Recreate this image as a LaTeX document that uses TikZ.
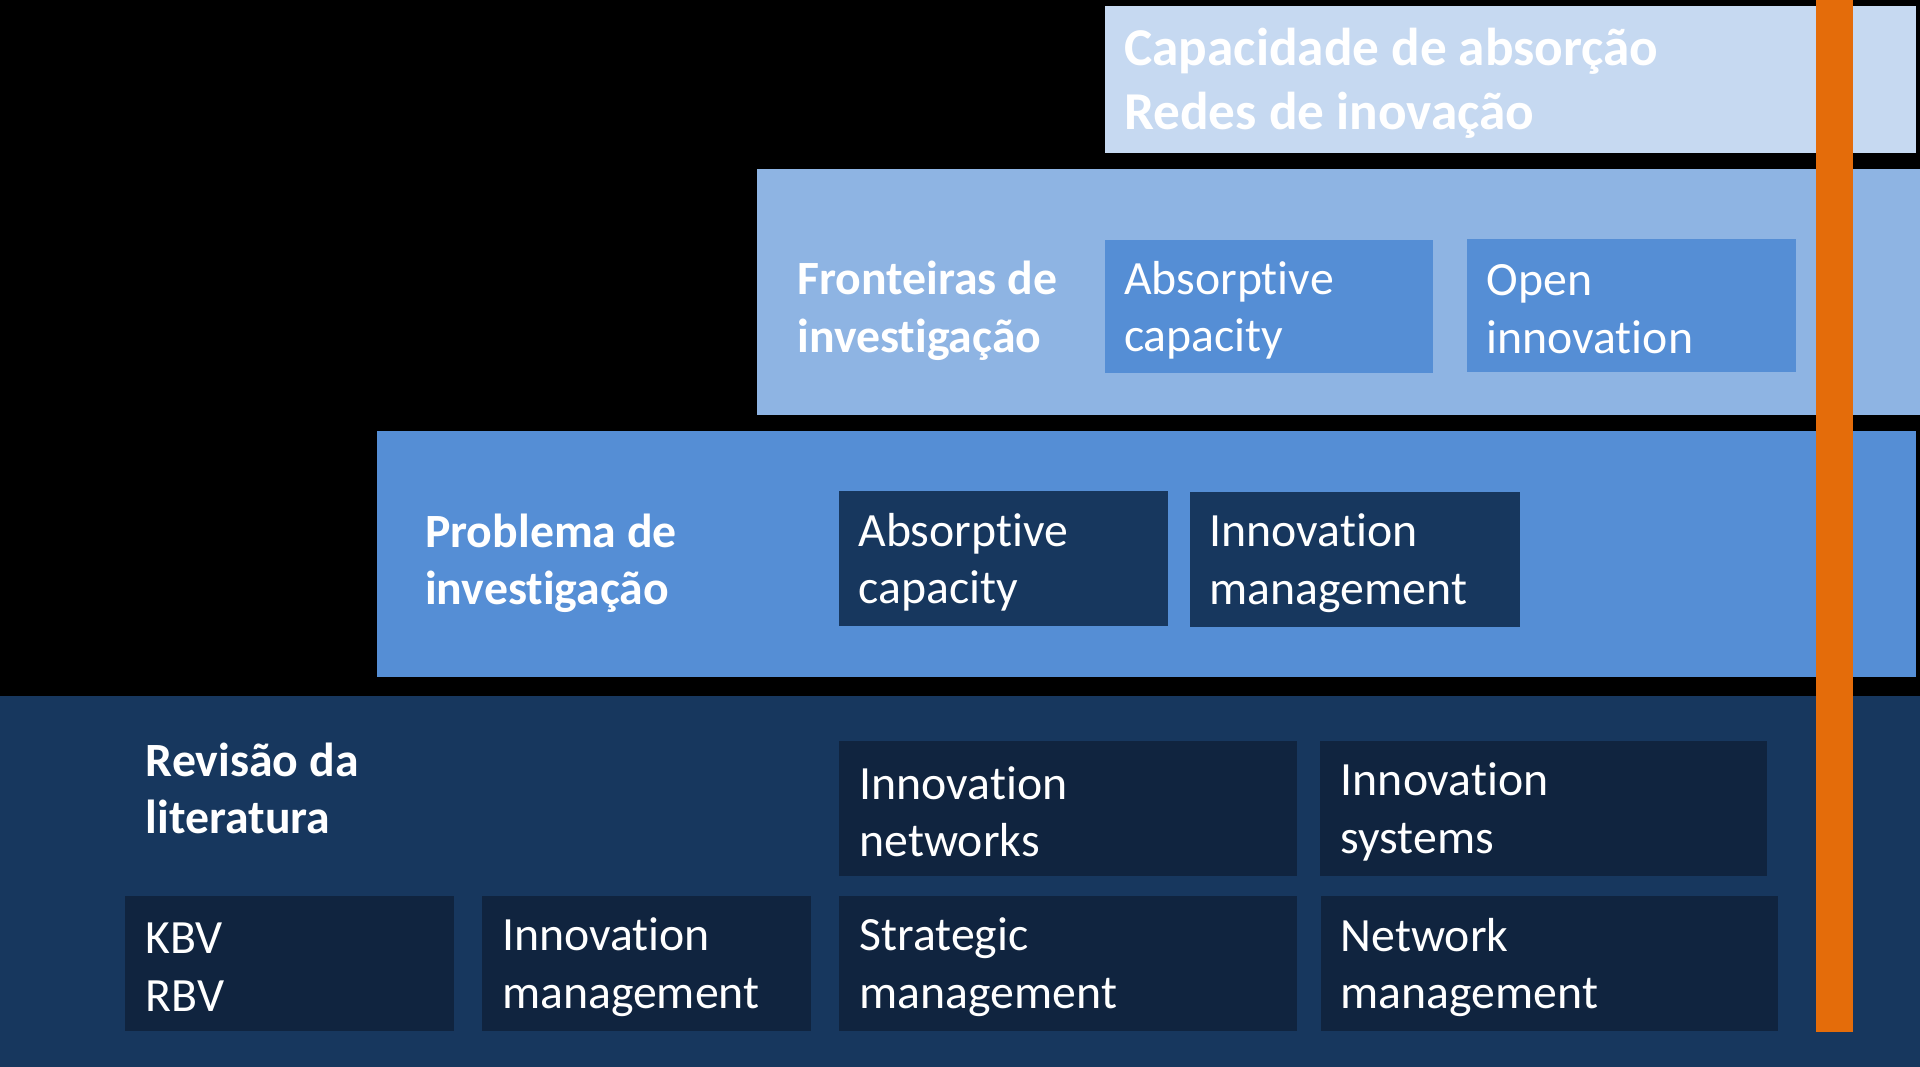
\documentclass[tikz,border=0pt]{standalone}
\usepackage{fontspec}
\setmainfont{Carlito}[Ligatures=NoCommon]
\usepackage{tikz}
\usetikzlibrary{positioning,backgrounds}

\definecolor{palebl}{HTML}{C6D9F1}
\definecolor{lightbl}{HTML}{8EB4E3}
\definecolor{midbl}{HTML}{558ED5}
\definecolor{darkbl}{HTML}{17375E}
\definecolor{deepbl}{HTML}{10243F}
\definecolor{barorange}{HTML}{E46C0A}

\tikzset{
  band/.style={rectangle, inner sep=0pt, draw=none},
  cellbox/.style={rectangle, inner sep=0pt, draw=none, minimum height=110pt},
  celltext/.style={anchor=west, inner sep=0pt, align=left, text=white,
    font=\fontsize{39}{47}\selectfont},
  bandlabel/.style={anchor=west, inner sep=0pt, align=left, text=white,
    font=\bfseries\fontsize{39}{47}\selectfont},
}

\begin{document}
\begin{tikzpicture}[x=1pt,y=-1pt]
\useasboundingbox (0,0) rectangle (1568,871);
\fill[black] (0,0) rectangle (1568,871);

% bands
\node[band, fill=palebl, minimum width=663pt, minimum height=120pt] (top) at (1233.5,65) {};
\node[band, fill=lightbl, minimum width=950pt, minimum height=201pt] (front) at (1093,238.5) {};
\node[band, fill=midbl, minimum width=1257pt, minimum height=201pt] (prob) at (936.5,452.5) {};
\node[band, fill=darkbl, minimum width=1568pt, minimum height=303pt] (rev) at (784,719.5) {};

% labels
\node[bandlabel, font=\bfseries\fontsize{43.5}{52}\selectfont] (toptxt) at (918,68)
  {Capacidade de absorção\\Redes de inovação};
\node[bandlabel] (fronttxt) at (651,254) {Fronteiras de\\investigação};
\node[bandlabel] (probtxt) at (347,460) {Problema de\\investigação};
\node[bandlabel] (revtxt) at (119,644) {Revisão da\\literatura};

% frontiers
\node[cellbox, fill=midbl, minimum width=268pt, minimum height=109pt] (fa) at (1036,250.5) {};
\node[cellbox, fill=midbl, minimum width=269pt, minimum height=109pt] (fb) at (1332.5,249.5) {};
\node[celltext] (fatxt) at ([xshift=16pt,yshift=-3pt]fa.west) {Absorptive\\capacity};
\node[celltext] (fbtxt) at ([xshift=16pt,yshift=-3pt]fb.west) {Open\\innovation};

% problem
\node[cellbox, fill=darkbl, minimum width=269pt] (pa) at (819.5,456) {};
\node[cellbox, fill=darkbl, minimum width=269pt] (pb) at (1106.5,457) {};
\node[celltext] (patxt) at ([xshift=16pt,yshift=-3pt]pa.west) {Absorptive\\capacity};
\node[celltext] (pbtxt) at ([xshift=16pt,yshift=-3pt]pb.west) {Innovation\\management};

% literature review
\node[cellbox, fill=deepbl, minimum width=374pt] (ra) at (872,660) {};
\node[cellbox, fill=deepbl, minimum width=365pt] (rb) at (1260.5,660) {};
\node[cellbox, fill=deepbl, minimum width=269pt] (rc) at (236.5,787) {};
\node[cellbox, fill=deepbl, minimum width=268pt] (rd) at (528,787) {};
\node[cellbox, fill=deepbl, minimum width=374pt] (re) at (872,787) {};
\node[cellbox, fill=deepbl, minimum width=373pt] (rf) at (1265.5,787) {};
\node[celltext] (ratxt) at ([xshift=17pt,yshift=-3pt]ra.west) {Innovation\\networks};
\node[celltext] (rbtxt) at ([xshift=17pt,yshift=-3pt]rb.west) {Innovation\\systems};
\node[celltext] (rctxt) at ([xshift=17pt,yshift=-3pt]rc.west) {KBV\\RBV};
\node[celltext] (rdtxt) at ([xshift=16pt,yshift=-3pt]rd.west) {Innovation\\management};
\node[celltext] (retxt) at ([xshift=17pt,yshift=-3pt]re.west) {Strategic\\management};
\node[celltext] (rftxt) at ([xshift=16pt,yshift=-3pt]rf.west) {Network\\management};

% orange bar
\node[band, fill=barorange, minimum width=30pt, minimum height=843pt] (bar) at (1498,421.5) {};
\end{tikzpicture}
\end{document}
